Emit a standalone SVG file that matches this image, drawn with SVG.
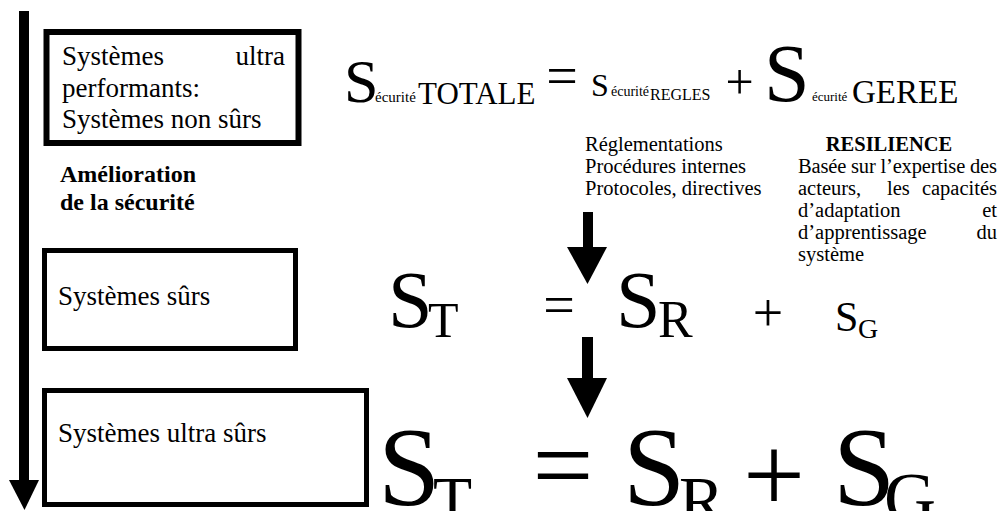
<svg xmlns="http://www.w3.org/2000/svg" width="999" height="511" viewBox="0 0 999 511">
<style>
text{font-family:"Liberation Serif","Times New Roman",serif;fill:#000}
.box{fill:#fff;stroke:#000}
.t27{font-size:27px}
.t20{font-size:20.5px}
.b{font-weight:bold}
</style>
<rect width="999" height="511" fill="#fff"/>
<g id="connectors">
<rect x="19" y="11" width="10" height="470" fill="#000"/>
<polygon points="9,480 39,480 24.5,510" fill="#000"/>
<rect x="583" y="212" width="10" height="36" fill="#000"/>
<polygon points="567,247 607,247 587.5,284" fill="#000"/>
<rect x="582" y="337" width="11" height="42" fill="#000"/>
<polygon points="567,378 607,378 587.5,418" fill="#000"/>
</g>
<g id="box1">
<rect class="box" x="46.5" y="32" width="252" height="111" stroke-width="6"/>
<text class="t27" x="62" y="65">Systèmes</text>
<text class="t27" x="285" y="65" text-anchor="end">ultra</text>
<text class="t27" x="62" y="97">performants:</text>
<text class="t27" x="62" y="128">Systèmes non sûrs</text>
</g>
<g id="amelioration">
<text x="60" y="182" font-size="24" class="b">Amélioration</text>
<text x="60" y="210" font-size="24" class="b">de la sécurité</text>
</g>
<g id="box2">
<rect class="box" x="44.5" y="250.5" width="251" height="98" stroke-width="5"/>
<text class="t27" x="58" y="305">Systèmes sûrs</text>
</g>
<g id="box3">
<rect class="box" x="44.5" y="390.5" width="322" height="114" stroke-width="5"/>
<text class="t27" x="58" y="442">Systèmes ultra sûrs</text>
</g>
<g id="eq-top">
<text x="344" y="102" font-size="62">S</text>
<text x="375" y="102" font-size="15">écurité</text>
<text x="418" y="104" font-size="31">TOTALE</text>
<text x="562" y="95" font-size="56" text-anchor="middle">=</text>
<text x="591" y="96" font-size="32">S</text>
<text x="611" y="96" font-size="14">écurité</text>
<text x="650" y="100" font-size="16">REGLES</text>
<text x="739.5" y="98.5" font-size="50" text-anchor="middle">+</text>
<text x="764" y="101" font-size="82">S</text>
<text x="812" y="101" font-size="13">écurité</text>
<text x="852" y="103" font-size="33">GEREE</text>
</g>
<g id="regles">
<text class="t20" x="585" y="151">Réglementations</text>
<text class="t20" x="585" y="173">Procédures internes</text>
<text class="t20" x="585" y="195">Protocoles, directives</text>
</g>
<g id="resilience">
<text class="t20 b" x="889" y="151" text-anchor="middle">RESILIENCE</text>
<text class="t20" x="798" y="173" textLength="199" lengthAdjust="spacing">Basée sur l’expertise des</text>
<text class="t20" x="798" y="195">acteurs,</text>
<text class="t20" x="887" y="195">les</text>
<text class="t20" x="997" y="195" text-anchor="end">capacités</text>
<text class="t20" x="798" y="217">d’adaptation</text>
<text class="t20" x="997" y="217" text-anchor="end">et</text>
<text class="t20" x="798" y="239">d’apprentissage</text>
<text class="t20" x="997" y="239" text-anchor="end">du</text>
<text class="t20" x="798" y="261">système</text>
</g>
<g id="eq-mid">
<text x="388" y="327" font-size="80">S</text>
<text x="428" y="337" font-size="50">T</text>
<text x="559" y="324" font-size="56" text-anchor="middle">=</text>
<text x="616" y="327" font-size="80">S</text>
<text x="658" y="337" font-size="52">R</text>
<text x="768" y="331" font-size="54" text-anchor="middle">+</text>
<text x="835" y="331" font-size="42">S</text>
<text x="858" y="338" font-size="28">G</text>
</g>
<g id="eq-bot">
<text x="378" y="505" font-size="112">S</text>
<text x="433" y="521" font-size="64">T</text>
<text x="563" y="501" font-size="108" text-anchor="middle">=</text>
<text x="623" y="505" font-size="112">S</text>
<text x="679" y="523" font-size="68">R</text>
<text x="774" y="512" font-size="110" text-anchor="middle">+</text>
<text x="833" y="505" font-size="112">S</text>
<text x="884" y="522" font-size="72">G</text>
</g>
</svg>
